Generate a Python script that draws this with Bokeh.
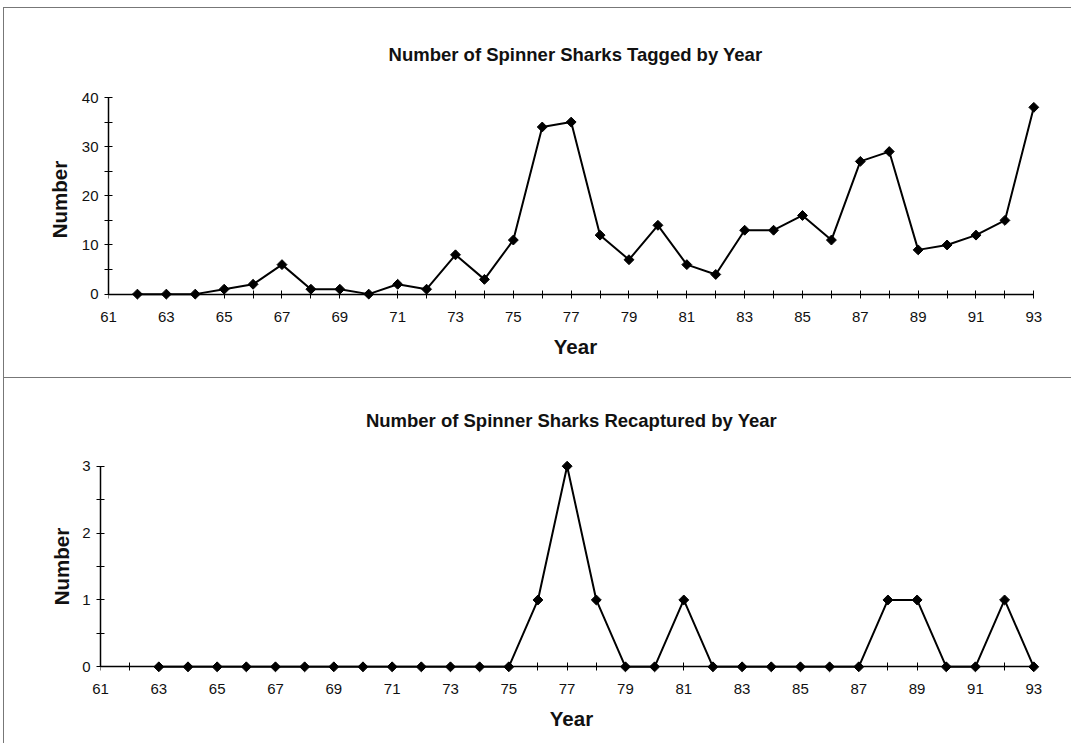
from bokeh.plotting import figure
from bokeh.models import FixedTicker, Range1d, ColumnDataSource, LinearAxis
from bokeh.layouts import column, row
from bokeh.embed import file_html
from bokeh.resources import INLINE

# ---- data ----
years_tagged = [62, 63, 64, 65, 66, 67, 68, 69, 70, 71, 72, 73, 74, 75, 76, 77,
                78, 79, 80, 81, 82, 83, 84, 85, 86, 87, 88, 89, 90, 91, 92, 93]
tagged = [0, 0, 0, 1, 2, 6, 1, 1, 0, 2, 1, 8, 3, 11, 34, 35,
          12, 7, 14, 6, 4, 13, 13, 16, 11, 27, 29, 9, 10, 12, 15, 38]

years_recap = [63, 64, 65, 66, 67, 68, 69, 70, 71, 72, 73, 74, 75, 76, 77, 78,
               79, 80, 81, 82, 83, 84, 85, 86, 87, 88, 89, 90, 91, 92, 93]
recaptured = [0, 0, 0, 0, 0, 0, 0, 0, 0, 0, 0, 0, 0, 1, 3, 1,
              0, 0, 1, 0, 0, 0, 0, 0, 0, 1, 1, 0, 0, 1, 0]

x_labels = [61, 63, 65, 67, 69, 71, 73, 75, 77, 79, 81, 83, 85, 87, 89, 91, 93]
x_minor = [62, 64, 66, 68, 70, 72, 74, 76, 78, 80, 82, 84, 86, 88, 90, 92]
tagged_ticks = [0, 10, 20, 30, 40]
tagged_minor = [5, 15, 25, 35]
recap_ticks = [0, 1, 2, 3]
recap_minor = [0.5, 1.5, 2.5]

FONT = "Liberation Sans"
INK = "#111111"


def style_axis(ax):
    ax.axis_line_color = "black"
    ax.axis_line_width = 1.5
    ax.major_tick_line_color = "black"
    ax.minor_tick_line_color = "black"
    ax.major_tick_in = 4
    ax.major_tick_out = 4
    ax.minor_tick_in = 4
    ax.minor_tick_out = 4
    ax.major_label_text_font = FONT
    ax.major_label_text_font_size = "15px"
    ax.major_label_text_color = INK
    ax.axis_label_text_font = FONT
    ax.axis_label_text_font_size = "20.5px"
    ax.axis_label_text_font_style = "bold"
    ax.axis_label_text_color = INK


def make(title, xs, ys, ylo, yhi, ybounds, yticks, yminor, height,
         mb_top, mb_bottom, mb_left, title_standoff, ylab_standoff):
    p = figure(width=1068, height=height, output_backend="svg", toolbar_location=None,
               x_range=Range1d(61, 93.3), y_range=Range1d(ylo, yhi),
               min_border_top=mb_top, min_border_bottom=mb_bottom,
               min_border_left=mb_left, min_border_right=30,
               title=title)
    p.title.text_font = FONT
    p.title.text_font_size = "18.5px"
    p.title.text_font_style = "bold"
    p.title.align = "center"
    p.title.text_color = INK
    p.title.standoff = title_standoff
    p.outline_line_color = None
    p.grid.visible = False
    p.background_fill_color = "white"
    p.border_fill_color = "white"

    src = ColumnDataSource(dict(x=xs, y=ys))
    p.line("x", "y", source=src, line_color="black", line_width=2)
    p.scatter("x", "y", source=src, marker="square", size=7, angle=0.785398,
              fill_color="black", line_color="black", line_width=1)

    # label axis (below panel): labels + axis title only
    xa = p.xaxis[0]
    style_axis(xa)
    xa.ticker = FixedTicker(ticks=x_labels, minor_ticks=x_minor)
    xa.axis_line_color = None
    xa.major_tick_line_color = None
    xa.minor_tick_line_color = None
    xa.major_tick_out = 0
    xa.major_tick_in = 0
    xa.minor_tick_out = 0
    xa.minor_tick_in = 0
    xa.axis_label = "Year"
    xa.major_label_standoff = 10
    xa.axis_label_standoff = 10

    # axis line + ticks at y = 0 (no labels of its own)
    xz = LinearAxis(ticker=FixedTicker(ticks=[], minor_ticks=x_labels + x_minor))
    style_axis(xz)
    xz.bounds = (61, 93)
    xz.fixed_location = 0
    xz.major_label_standoff = 0
    p.add_layout(xz, "below")

    ya = p.yaxis[0]
    style_axis(ya)
    ya.ticker = FixedTicker(ticks=yticks, minor_ticks=yminor)
    ya.bounds = ybounds
    ya.axis_label = "Number"
    ya.major_label_standoff = 6
    ya.axis_label_standoff = ylab_standoff
    return p


p1 = make("Number of Spinner Sharks Tagged by Year", years_tagged, tagged,
          -1.5, 40, (0, 40), tagged_ticks, tagged_minor,
          370, 89, 77, 104, 65, 8)
p2 = make("Number of Spinner Sharks Recaptured by Year", years_recap, recaptured,
          -0.1, 3.1, (0, 3), recap_ticks, recap_minor,
          366, 81, 71, 96, 57, 6)
p1.styles = {"border-top": "1px solid #777", "border-left": "1px solid #777"}
p2.styles = {"border-top": "1px solid #777", "border-left": "1px solid #777"}

layout = column(row(p1), row(p2), spacing=0, styles={"margin-top": "7px", "margin-left": "3px"})
open("out.html", "w").write(file_html(layout, INLINE))
